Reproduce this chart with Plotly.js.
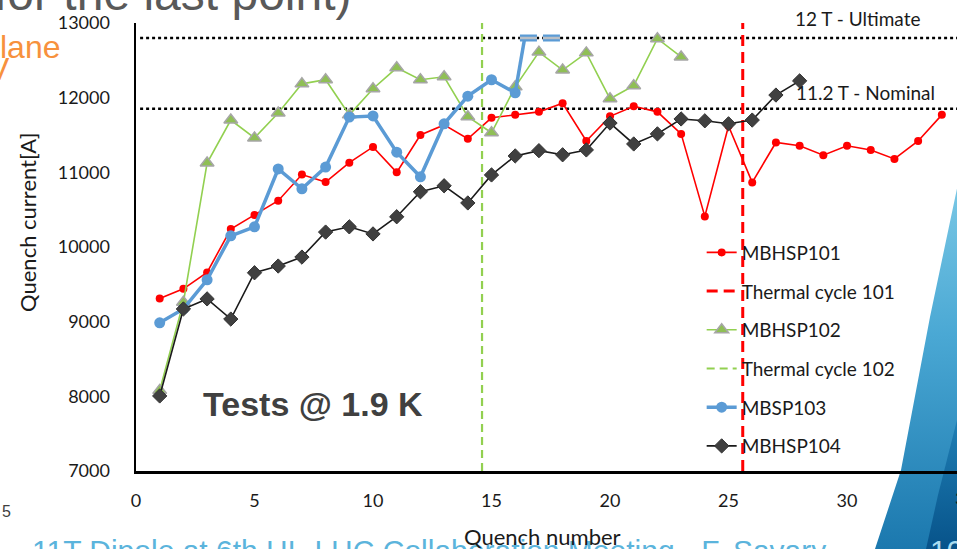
<!DOCTYPE html>
<html>
<head>
<meta charset="utf-8">
<script src="https://cdn.plot.ly/plotly-3.0.1.min.js"></script>
<style>
  html, body { margin: 0; padding: 0; background: #fff; overflow: hidden; }
  #wrap { position: relative; width: 957px; height: 549px; }
  #slide { position: absolute; left: 0; top: 0; }
  #chart { position: absolute; left: 0; top: 0; width: 957px; height: 549px; }
</style>
</head>
<body>
<div id="wrap">
  <!-- slide background: decoration and surrounding slide text -->
  <svg id="slide" width="957" height="549" viewBox="0 0 957 549">
    <defs>
      <linearGradient id="swoosh" x1="0" y1="0" x2="0" y2="1">
        <stop offset="0" stop-color="#82cde8"/>
        <stop offset="0.45" stop-color="#4aa8d4"/>
        <stop offset="1" stop-color="#1b78ae"/>
      </linearGradient>
      <linearGradient id="swooshDark" x1="0" y1="0" x2="0" y2="1">
        <stop offset="0" stop-color="#1f7fb5"/>
        <stop offset="1" stop-color="#07538a"/>
      </linearGradient>
    </defs>
    <path d="M963,160 L930,317 L901,470 L875,549 L957,549 Z" fill="url(#swoosh)"/>
    <path d="M957,420 L938,495 L926,549 L957,549 Z" fill="url(#swooshDark)"/>
    <text x="-6" y="10" font-family="Liberation Sans, Arial, sans-serif" font-size="48" fill="#595959">for the last point)</text>
    <text x="-17.8" y="58" font-family="Liberation Sans, Arial, sans-serif" font-size="32" fill="#f7913d">plane</text>
    <text x="-12" y="80" font-family="Liberation Sans, Arial, sans-serif" font-size="32" fill="#f7913d">V</text>
    <text x="2" y="517" font-family="Liberation Sans, Arial, sans-serif" font-size="16" fill="#404040">5</text>
    <text x="32" y="561" font-family="Liberation Sans, Arial, sans-serif" font-size="30" fill="#5bb4dc">11T Dipole at 6th HL-LHC Collaboration Meeting - F. Savary</text>
    <text x="930" y="561" font-family="Liberation Sans, Arial, sans-serif" font-size="30" fill="#a9dcf0">10</text>
  </svg>
  <div id="chart"></div>
</div>
<script>
// Quench training of the 11 T dipole short models at 1.9 K
const quenchNo = [1, 2, 3, 4, 5, 6, 7, 8, 9, 10, 11, 12, 13, 14, 15, 16, 17,
                  18, 19, 20, 21, 22, 23, 24, 25, 26, 27, 28, 29, 30, 31, 32, 33, 34];

const mbhsp101 = [9310, 9440, 9660, 10240, 10430, 10620, 10970, 10870, 11130, 11340,
                  11000, 11500, 11635, 11450, 11730, 11770, 11810, 11925, 11420, 11750,
                  11885, 11810, 11515, 10410, 11620, 10865, 11400, 11355, 11230, 11355,
                  11300, 11180, 11420, 11770];
const mbhsp102 = [8080, 9260, 11125, 11700, 11460, 11795, 12185, 12240, 11770, 12120,
                  12400, 12240, 12280, 11745, 11530, 12145, 12610, 12370, 12600, 11985,
                  12160, 12790, 12545];
const mbsp103 = [8985, 9170, 9560, 10150, 10270, 11045, 10780, 11070, 11740, 11755,
                 11270, 10940, 11650, 12020, 12240, 12065];
const mbhsp104 = [8005, 9170, 9305, 9035, 9655, 9745, 9865, 10200, 10270, 10175,
                  10405, 10740, 10820, 10590, 10965, 11220, 11290, 11235, 11300, 11660,
                  11380, 11515, 11715, 11690, 11650, 11700, 12035, 12225];

// MBSP103 reached the ultimate current without quenching on the last ramp
const mbsp103LimitX = [16.4, 17.9];

// thermal cycles (position along the quench sequence)
const thermalCycle101 = 25.6;
const thermalCycle102 = 14.6;

// reference currents
const ultimateCurrent = 12800;   // 12 T
const nominalCurrent = 11850;    // 11.2 T

const xTicks = [0, 5, 10, 15, 20, 25, 30];
const xRange = [0, 34.64];
const lastTick = 35;             // sits just past the right edge of the view
const yRange = [7000, 13000];

const FONT = 'Lato, "Open Sans", sans-serif';
const C_RED = '#ff0000', C_GREEN = '#92d050', C_BLUE = '#5b9bd5', C_BLACK = '#1a1a1a';

const xs = n => quenchNo.slice(0, n);
const noQuenchDash = '17px,6px';

const traces = [
  {
    name: 'MBHSP101', legendgroup: 'a', x: xs(mbhsp101.length), y: mbhsp101,
    mode: 'lines+markers', line: {color: C_RED, width: 1.6},
    marker: {symbol: 'circle', size: 8, color: C_RED}
  },
  {
    name: 'Thermal cycle 101', legendgroup: 'b', x: [thermalCycle101, thermalCycle101], y: yRange,
    mode: 'lines', line: {color: C_RED, width: 3, dash: '11px,6px'}
  },
  {
    name: 'MBHSP102', legendgroup: 'c', x: xs(mbhsp102.length), y: mbhsp102,
    mode: 'lines+markers', line: {color: C_GREEN, width: 1.6},
    marker: {symbol: 'triangle-up', size: 12, color: '#8fbf55', line: {color: '#a6a6a6', width: 1.5}}
  },
  {
    name: 'Thermal cycle 102', legendgroup: 'd', x: [thermalCycle102, thermalCycle102], y: yRange,
    mode: 'lines', line: {color: C_GREEN, width: 2.2, dash: '8px,5px'}
  },
  {
    name: 'MBSP103', legendgroup: 'e', x: xs(mbsp103.length), y: mbsp103,
    mode: 'lines+markers', line: {color: C_BLUE, width: 3.5},
    marker: {symbol: 'circle', size: 11, color: C_BLUE}
  },
  {
    name: 'MBSP103 limit', showlegend: false, hoverinfo: 'skip',
    x: [quenchNo[mbsp103.length - 1], mbsp103LimitX[0]],
    y: [mbsp103[mbsp103.length - 1], ultimateCurrent],
    mode: 'lines', line: {color: C_BLUE, width: 3.5}
  },
  {
    name: 'MBSP103 no quench', showlegend: false, hoverinfo: 'skip',
    x: [mbsp103LimitX[0] - 0.2, mbsp103LimitX[1]], y: [ultimateCurrent, ultimateCurrent],
    mode: 'lines', line: {color: C_BLUE, width: 7, dash: noQuenchDash}
  },
  {
    name: 'MBSP103 no quench core', showlegend: false, hoverinfo: 'skip',
    x: [mbsp103LimitX[0] - 0.2, mbsp103LimitX[1]], y: [ultimateCurrent, ultimateCurrent],
    mode: 'lines', line: {color: '#b9bfc6', width: 2.5, dash: noQuenchDash}
  },
  {
    name: 'MBHSP104', legendgroup: 'f', x: xs(mbhsp104.length), y: mbhsp104,
    mode: 'lines+markers', line: {color: C_BLACK, width: 1.6},
    marker: {symbol: 'diamond', size: 11, color: '#404040', line: {color: '#333', width: 1}}
  }
];

const ann = (text, x, y, size, extra) => Object.assign({
  text, x, y, xref: 'paper', yref: 'paper', xanchor: 'center', yanchor: 'middle',
  showarrow: false, font: {family: FONT, size, color: '#1a1a1a'}
}, extra || {});

const layout = {
  width: 957, height: 549,
  margin: {l: 136, r: 0, t: 23, b: 78},
  paper_bgcolor: 'rgba(0,0,0,0)',
  plot_bgcolor: 'rgba(0,0,0,0)',
  font: {family: FONT, color: '#1a1a1a'},
  showlegend: true,
  legend: {
    x: 0.689, y: 0.530, xanchor: 'left', yanchor: 'top',
    bgcolor: 'rgba(0,0,0,0)', font: {family: FONT, size: 19, color: '#1a1a1a'},
    traceorder: 'grouped', tracegroupgap: 11, itemclick: false
  },
  xaxis: {
    range: xRange, tickvals: xTicks, ticktext: xTicks.map(String),
    showgrid: false, zeroline: false, showline: true, linecolor: '#000', linewidth: 2.5,
    ticks: '', ticklabelstandoff: 12, tickfont: {family: FONT, size: 18, color: '#1a1a1a'}
  },
  yaxis: {
    range: yRange, dtick: 1000, tickformat: 'd',
    showgrid: false, zeroline: false, showline: true, linecolor: '#000', linewidth: 2.5,
    ticks: '', ticklabelstandoff: 20, tickfont: {family: FONT, size: 18, color: '#1a1a1a'}
  },
  shapes: [
    {type: 'line', xref: 'paper', x0: 0.005, x1: 1, yref: 'y', y0: ultimateCurrent, y1: ultimateCurrent,
     line: {color: '#000', width: 2.5, dash: 'dot'}, layer: 'below'},
    {type: 'line', xref: 'paper', x0: 0.005, x1: 1, yref: 'y', y0: nominalCurrent, y1: nominalCurrent,
     line: {color: '#000', width: 2.5, dash: 'dot'}, layer: 'below'}
  ],
  annotations: [
    ann('12 T - Ultimate', 0.879, 1.011, 19),
    ann('11.2 T - Nominal', 0.889, 0.844, 19),
    ann('<b>Tests @ 1.9 K</b>', 0.2156, 0.1496, 34,
        {font: {family: '"Liberation Sans", Arial, sans-serif', size: 34, color: '#404040'}}),
    ann('Quench current[A]', -0.1328, 0.5558, 22, {textangle: -90}),
    ann('Quench number', 0.4957, -0.147, 22),
    // tick label of the last tick, beyond the visible range
    ann(String(lastTick), lastTick / (xRange[1] - xRange[0]), -0.061, 18)
  ]
};

Plotly.newPlot('chart', traces, layout, {displayModeBar: false, staticPlot: true});
</script>
</body>
</html>
